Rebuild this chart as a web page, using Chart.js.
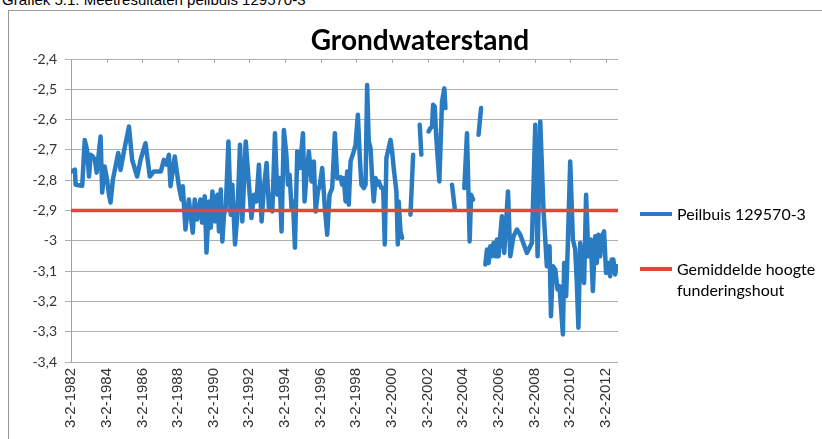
<!DOCTYPE html>
<html><head><meta charset="utf-8">
<script src="https://cdn.jsdelivr.net/npm/chart.js@4.4.1/dist/chart.umd.min.js"></script>
<style>
html,body{margin:0;padding:0;background:#fff;width:822px;height:439px;overflow:hidden;position:relative;font-family:"Liberation Sans",Arial,sans-serif;}
#caption{position:absolute;left:2px;top:-8px;font-size:15px;line-height:15px;color:#000;white-space:nowrap;}
#frame{position:absolute;left:8px;top:10px;width:900px;height:600px;border:1px solid #9a9a9a;}
#cv{position:absolute;left:0;top:0;}
#title{position:absolute;left:0;width:840px;top:22px;text-align:center;font-family:Lato,sans-serif;font-weight:bold;font-size:28px;line-height:34px;color:#000;}
.sw{position:absolute;left:640px;width:32px;height:4px;}
.lt{position:absolute;left:677px;font-family:Lato,sans-serif;font-size:16px;line-height:21px;color:#000;white-space:nowrap;}
</style></head>
<body>
<div id="caption">Grafiek 5.1: Meetresultaten peilbuis 129570-3</div>
<div id="frame"></div>
<canvas id="cv" width="822" height="439"></canvas>
<div id="title">Grondwaterstand</div>
<div class="sw" style="top:212px;background:#2a7cc2"></div>
<div class="lt" style="top:203px">Peilbuis 129570-3</div>
<div class="sw" style="top:267px;background:#e5443b"></div>
<div class="lt" style="top:258px">Gemiddelde hoogte<br>funderingshout</div>
<script>
// Measurement dates (decimal years) and groundwater levels (m); null = no measurement (gap)
const dates = [
1982.13,1982.31,1982.35,1982.72,1982.86,1982.99,1983.10,1983.19,1983.32,1983.43,1983.53,1983.75,1983.84,1983.98,
1984.11,1984.22,1984.31,1984.44,1984.74,1984.87,1985.06,1985.34,1985.52,1985.80,1985.99,1986.27,1986.51,1986.74,
1987.13,1987.30,1987.45,1987.58,1987.67,1987.91,1988.14,1988.29,1988.36,1988.51,1988.70,1988.92,1989.03,1989.16,
1989.35,1989.44,1989.59,1989.69,1989.83,1989.93,1990.02,1990.17,1990.30,1990.39,1990.49,1990.58,1990.67,1990.77,
1990.92,1991.05,1991.14,1991.29,1991.42,1991.57,1991.70,1991.89,1992.07,1992.21,1992.35,1992.49,1992.63,1992.78,
1992.91,1993.06,1993.19,1993.33,1993.38,1993.53,1993.66,1993.79,1993.90,1994.03,1994.17,1994.26,1994.35,1994.46,
1994.54,1994.65,1994.78,1994.93,1995.10,1995.19,1995.30,1995.43,1995.58,1995.71,1995.81,1995.94,1996.05,1996.18,
1996.33,1996.46,1996.59,1996.74,1996.89,1997.02,1997.21,1997.30,1997.39,1997.49,1997.58,1997.67,1997.77,1997.95,
1998.05,1998.18,1998.29,1998.38,1998.51,1998.61,1998.70,1998.79,1998.89,1998.98,1999.07,1999.17,1999.26,1999.35,
1999.49,1999.60,1999.69,1999.78,1999.91,2000.01,2000.10,2000.19,2000.34,2000.42,2000.47,2000.57,2000.66,
2000.90,
2001.13,2001.28,
2001.45,
2001.65,2001.74,
2001.95,
2002.15,2002.25,2002.34,2002.40,2002.49,2002.58,2002.75,2002.90,2003.03,2003.09,
2003.30,
2003.46,2003.61,
2003.90,
2004.15,2004.30,2004.39,2004.45,2004.53,2004.64,
2004.80,
2004.95,2005.09,
2005.20,
2005.33,2005.42,2005.51,2005.61,2005.70,2005.79,2005.89,2005.98,2006.07,2006.26,2006.39,2006.60,2006.73,2006.91,
2007.10,2007.29,2007.66,2007.94,2008.13,2008.26,2008.41,2008.59,2008.78,2008.93,2009.01,2009.12,2009.25,2009.38,
2009.49,2009.68,2009.75,2009.86,2009.93,2010.09,2010.24,2010.37,2010.46,2010.55,2010.65,2010.74,2010.87,2010.98,
2011.11,2011.24,2011.36,2011.49,2011.58,2011.67,2011.77,2011.86,2011.99,2012.10,2012.23,2012.33,2012.42,2012.51,
2012.61,2012.70
];
const levels = [
-2.771,-2.765,-2.815,-2.818,-2.667,-2.700,-2.788,-2.716,-2.722,-2.733,-2.775,-2.656,-2.841,-2.755,
-2.798,-2.848,-2.874,-2.798,-2.710,-2.766,-2.705,-2.623,-2.733,-2.788,-2.733,-2.678,-2.788,-2.771,
-2.771,-2.733,-2.749,-2.716,-2.820,-2.722,-2.820,-2.864,-2.820,-2.963,-2.864,-2.973,-2.864,-2.930,
-2.864,-2.940,-2.853,-3.039,-2.870,-2.957,-2.837,-2.936,-2.848,-2.969,-2.831,-3.002,-2.914,-2.892,
-2.672,-2.914,-2.815,-3.012,-2.914,-2.683,-2.936,-2.672,-2.815,-2.925,-2.848,-2.870,-2.749,-2.936,
-2.826,-2.743,-2.892,-2.848,-2.903,-2.645,-2.848,-2.793,-2.969,-2.634,-2.716,-2.815,-2.782,-2.892,
-2.870,-3.023,-2.705,-2.760,-2.645,-2.870,-2.782,-2.705,-2.804,-2.738,-2.903,-2.837,-2.815,-2.760,
-2.892,-2.980,-2.848,-2.826,-2.645,-2.793,-2.790,-2.815,-2.793,-2.870,-2.771,-2.881,-2.738,-2.705,
-2.683,-2.584,-2.727,-2.815,-2.826,-2.815,-2.486,-2.672,-2.694,-2.793,-2.870,-2.793,-2.815,-2.804,
-2.826,-2.826,-3.012,-2.727,-2.694,-2.667,-2.705,-2.760,-2.837,-3.012,-2.870,-2.969,-2.990,
null,
-2.914,-2.716,
null,
-2.617,-2.716,
null,
-2.639,-2.628,-2.623,-2.551,-2.557,-2.661,-2.804,-2.541,-2.497,-2.562,
null,
-2.815,-2.892,
null,
-2.826,-2.645,-2.859,-3.002,-2.848,-2.864,
null,
-2.650,-2.562,
null,
-3.078,-3.029,-3.073,-3.018,-3.051,-3.007,-3.051,-2.996,-3.051,-2.919,-3.040,-2.837,-3.051,-2.985,
-2.963,-2.980,-3.040,-3.007,-2.617,-3.051,-2.606,-2.897,-3.084,-3.018,-3.249,-3.084,-3.095,-3.161,
-3.150,-3.309,-3.073,-3.183,-3.062,-2.738,-2.996,-3.029,-3.139,-3.287,-3.007,-3.073,-3.139,-2.848,
-3.051,-2.996,-3.166,-2.985,-3.073,-2.980,-3.051,-2.985,-2.969,-3.106,-3.073,-3.117,-3.062,-3.062,
-3.111,-3.084
];
const foundationLevel = -2.9;           // Gemiddelde hoogte funderingshout
const xStart = 1982.09, xEnd = 2012.77; // 3-2-1982 .. end of record
const tickYears = [1982,1984,1986,1988,1990,1992,1994,1996,1998,2000,2002,2004,2006,2008,2010,2012];
const tickLabels = ['3-2-1982','3-2-1984','3-2-1986','3-2-1988','3-2-1990','3-2-1992','3-2-1994','3-2-1996',
                    '3-2-1998','3-2-2000','3-2-2002','3-2-2004','3-2-2006','3-2-2008','3-2-2010','3-2-2012'];

const tickDates = tickYears.map(y => y + 34/365);
const seriesPoints = dates.map((d, i) => ({x: d, y: levels[i]}));
const foundationPoints = [{x: xStart, y: foundationLevel}, {x: xEnd, y: foundationLevel}];

const topTicks = {
  id: 'topTicks',
  beforeDatasetsDraw(chart) {
    const {ctx, chartArea, scales} = chart;
    const x = scales.x;
    ctx.save();
    ctx.strokeStyle = '#a6a6a6';
    ctx.lineWidth = 1;
    x.ticks.forEach(t => {
      const px = Math.round(x.getPixelForValue(t.value)) + 0.5;
      ctx.beginPath();
      ctx.moveTo(px, chartArea.top);
      ctx.lineTo(px, chartArea.top + 4);
      ctx.stroke();
    });
    ctx.restore();
  }
};

new Chart(document.getElementById('cv'), {
  type: 'line',
  data: {
    datasets: [
      {label: 'Gemiddelde hoogte funderingshout', data: foundationPoints, borderColor: '#e5443b',
       borderWidth: 3.5, pointRadius: 0, order: 0},
      {label: 'Peilbuis 129570-3', data: seriesPoints, borderColor: '#2a7cc2', borderWidth: 4.5,
       pointRadius: 0, tension: 0, spanGaps: false, borderJoinStyle: 'round', borderCapStyle: 'round', order: 1}
    ]
  },
  options: {
    responsive: false, animation: false, devicePixelRatio: 1,
    layout: {padding: {left: 0, top: 59, right: 204, bottom: 0}},
    plugins: {legend: {display: false}, tooltip: {enabled: false}, title: {display: false}},
    scales: {
      x: {
        type: 'linear', min: xStart, max: xEnd,
        afterBuildTicks(s) { s.ticks = tickDates.map(v => ({value: v})); },
        afterFit(s) { s.height = 77; },
        ticks: {autoSkip: false, minRotation: 90, maxRotation: 90, padding: 6,
                font: {family: 'Liberation Sans', size: 15}, color: '#333333',
                callback: (v, i) => tickLabels[i]},
        grid: {display: false, drawTicks: false},
        border: {display: false}
      },
      y: {
        min: -3.4, max: -2.4,
        afterFit(s) { s.width = 71; },
        ticks: {stepSize: 0.1, padding: 8, font: {family: 'Lato', size: 14}, color: '#333333',
                callback: v => String(Math.round(v * 10) / 10).replace('.', ',')},
        grid: {color: '#b0b0b0', lineWidth: 1, tickLength: 6, drawTicks: true},
        border: {color: '#a0a0a0'}
      }
    }
  },
  plugins: [topTicks]
});
</script>
</body></html>
